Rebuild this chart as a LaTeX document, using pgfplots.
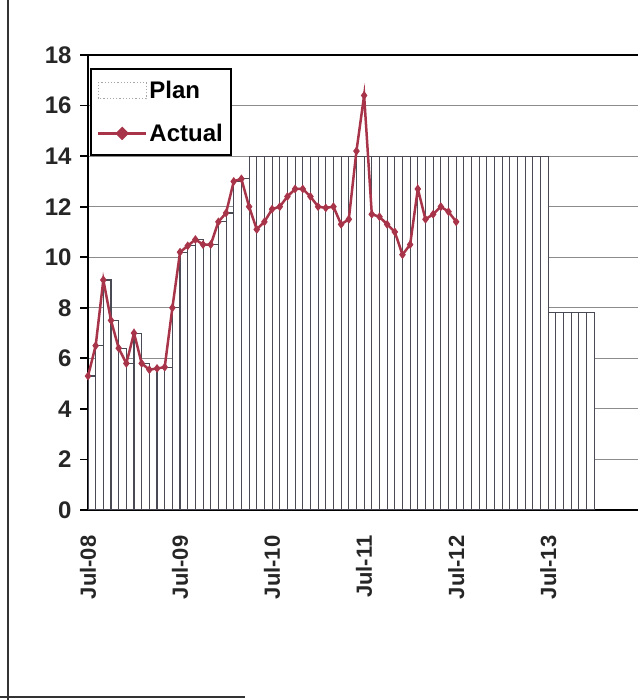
\documentclass[border=0pt]{standalone}
\usepackage{pgfplots}
\usepackage{pgfplotstable}
\pgfplotsset{compat=1.18}
\usepackage{fontspec}
\setmainfont{Liberation Sans}
\definecolor{actual}{HTML}{A8344A}
\definecolor{barline}{HTML}{4A4A55}

\pgfplotstableread{
x y
0.5 5.3
1.5 6.5
2.5 9.1
3.5 7.5
4.5 6.4
5.5 5.8
6.5 7.0
7.5 5.8
8.5 5.55
9.5 5.6
10.5 5.65
11.5 8.0
12.5 10.2
13.5 10.45
14.5 10.7
15.5 10.5
16.5 10.5
17.5 11.4
18.5 11.75
19.5 13.0
20.5 13.1
21.5 14
22.5 14
23.5 14
24.5 14
25.5 14
26.5 14
27.5 14
28.5 14
29.5 14
30.5 14
31.5 14
32.5 14
33.5 14
34.5 14
35.5 14
36.5 14
37.5 14
38.5 14
39.5 14
40.5 14
41.5 14
42.5 14
43.5 14
44.5 14
45.5 14
46.5 14
47.5 14
48.5 14
49.5 14
50.5 14
51.5 14
52.5 14
53.5 14
54.5 14
55.5 14
56.5 14
57.5 14
58.5 14
59.5 14
60.5 7.8
61.5 7.8
62.5 7.8
63.5 7.8
64.5 7.8
65.5 7.8
}\plan

\pgfplotstableread{
x y
0 5.3
1 6.5
2 9.1
3 7.5
4 6.4
5 5.8
6 7.0
7 5.8
8 5.55
9 5.6
10 5.65
11 8.0
12 10.2
13 10.45
14 10.7
15 10.5
16 10.5
17 11.4
18 11.75
19 13.0
20 13.1
21 12.0
22 11.1
23 11.4
24 11.9
25 12.0
26 12.4
27 12.7
28 12.7
29 12.4
30 12.0
31 11.95
32 12.0
33 11.3
34 11.5
35 14.2
36 16.4
37 11.7
38 11.6
39 11.3
40 11.0
41 10.1
42 10.5
43 12.7
44 11.5
45 11.7
46 12.0
47 11.8
48 11.4
}\actual

\pgfplotsset{
  planlegend/.style={legend image code/.code={\draw[draw=black!35, dotted, fill=white, line width=1.2pt] (0pt,-8pt) rectangle (48pt,8pt);}},
  actuallegend/.style={legend image code/.code={\draw[color=actual, line width=2.5pt] (0pt,0pt) -- (48pt,0pt); \fill[actual] (24pt,-5pt) -- (29pt,0pt) -- (24pt,5pt) -- (19pt,0pt) -- cycle;}},
}

\begin{document}
\begin{tikzpicture}[x=1pt,y=1pt]
\path[use as bounding box] (0,0) rectangle (637,700);
\draw[line width=2.5pt, black!80] (8,0) -- (8,700);
\draw[line width=2.5pt, black!80] (0,3) -- (245,3);
\begin{axis}[
  at={(88pt,190pt)}, anchor=south west,
  scale only axis, width=613.6pt, height=455pt,
  xmin=0, xmax=80, ymin=0, ymax=18,
  ytick={0,2,...,18},
  xtick={0,12,24,36,48,60},
  xticklabels={Jul-08,Jul-09,Jul-10,Jul-11,Jul-12,Jul-13},
  xtick style={draw=none},
  xtick pos=bottom,
  ytick pos=left, tick align=outside,
  major tick length=8pt,
  ytick style={line width=1.8pt, black},
  ymajorgrids, grid style={line width=1.2pt, black!45},
  axis line style={line width=2.6pt, black},
  yticklabel style={font=\bfseries\fontsize{24}{24}\selectfont, text=black!85},
  xticklabel style={font=\bfseries\fontsize{22}{22}\selectfont, text=black!85, rotate=90, anchor=east},
  xticklabel shift=14pt,
  yticklabel shift=5pt,
  /pgf/number format/assume math mode=true,
  legend cell align=left,
  legend style={at={(0.0033,0.971)}, anchor=north west, draw=black,
    line width=1.8pt, fill=white,
    font=\bfseries\fontsize{24}{24}\selectfont,
    inner xsep=6pt, inner ysep=10pt, row sep=20pt},
]
\addplot[ybar, bar width=1, bar shift=0, draw=barline, fill=white, line width=1.1pt, planlegend]
  table[x=x,y=y] {\plan};
\addlegendentry{Plan}
\addplot[color=actual, line width=2.5pt, mark=diamond*, mark size=3.6pt,
  mark options={fill=actual, line width=1pt}, actuallegend]
  table[x=x,y=y] {\actual};
\addlegendentry{Actual}
\end{axis}
\end{tikzpicture}
\end{document}
